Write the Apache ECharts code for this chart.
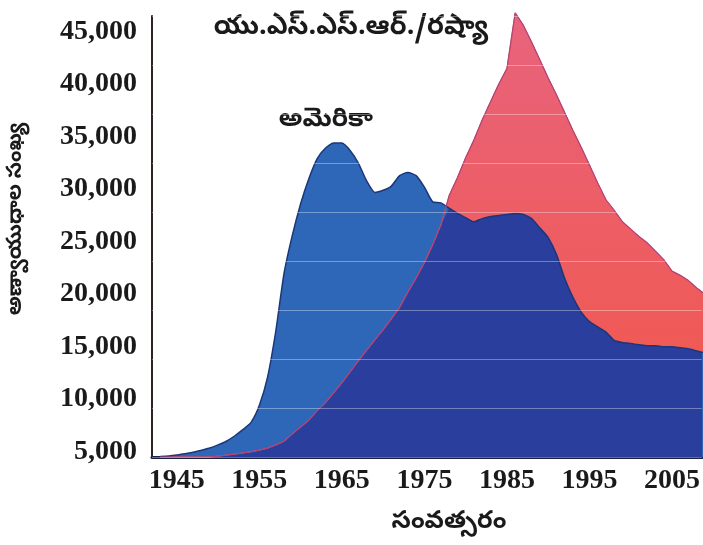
<!DOCTYPE html>
<html>
<head>
<meta charset="utf-8">
<script src="https://cdn.jsdelivr.net/npm/echarts@6/dist/echarts.min.js"></script>
<style>
  html, body { margin: 0; padding: 0; background: #fff; }
  #chart { width: 703px; height: 545px; }
</style>
</head>
<body>
<div id="chart"></div>
<script>
var years = [1943, 1944, 1945, 1946, 1947, 1948, 1949, 1950, 1951, 1952, 1953, 1954,
  1955, 1956, 1957, 1958, 1959, 1960, 1961, 1962, 1963, 1964, 1965, 1966, 1967, 1968,
  1969, 1970, 1971, 1972, 1973, 1974, 1975, 1976, 1977, 1978, 1979, 1980, 1981, 1982,
  1983, 1984, 1985, 1986, 1987, 1988, 1989, 1990, 1991, 1992, 1993, 1994, 1995, 1996,
  1997, 1998, 1999, 2000, 2001, 2002, 2003, 2004, 2005, 2006, 2007, 2008, 2009];

// అమెరికా
var usa = [4550, 4600, 4700, 4800, 4950, 5150, 5350, 5650, 6000, 6500, 7100, 7800,
  9400, 12100, 16500, 22000, 25600, 28600, 31000, 32900, 33900, 34400, 34400, 33700, 32500, 30800,
  29700, 29900, 30300, 31300, 31600, 31300, 30200, 28800, 28700, 28200, 27700, 27300, 26900, 27200,
  27400, 27500, 27600, 27700, 27600, 27200, 26300, 25400, 23800, 21500, 19700, 18300, 17400, 16900,
  16400, 15600, 15400, 15300, 15200, 15100, 15100, 15000, 15000, 14900, 14800, 14600, 14400];

// యు.ఎస్.ఎస్.ఆర్./రష్యా
var ussr = [4500, 4500, 4500, 4500, 4500, 4500, 4520, 4580, 4680, 4780, 4880, 5000,
  5150, 5350, 5650, 6000, 6700, 7350, 8000, 8900, 9650, 10600, 11550, 12600, 13650, 14650,
  15650, 16600, 17650, 18750, 20200, 21550, 23000, 24700, 26600, 29400, 31100, 33000, 34700, 36600,
  38300, 40000, 41500, 46800, 45600, 44000, 42300, 40600, 39000, 37300, 35600, 34000, 32300, 30600,
  29000, 28000, 26900, 26200, 25500, 24900, 24100, 23300, 22200, 21800, 21300, 20600, 20000];

var yearLabels = [1945, 1955, 1965, 1975, 1985, 1995, 2005];
var countLabels = [5000, 10000, 15000, 20000, 25000, 30000, 35000, 40000, 45000];

function pairs(vals) {
  return years.map(function (y, i) { return [y, vals[i]]; });
}
// the part where both stockpiles overlap is drawn dark navy
var overlap = usa.map(function (v, i) { return Math.min(v, ussr[i]); });

var teluguFont = '"Noto Sans Telugu", "Noto Sans", sans-serif';

var chart = echarts.init(document.getElementById('chart'));
var option = {
  animation: false,
  grid: { left: 152, right: 0, top: 16, bottom: 88 },
  xAxis: {
    type: 'value',
    min: 1942,
    max: 2008.6,
    splitLine: { show: false },
    axisTick: { show: false },
    axisLine: { lineStyle: { color: '#1b2142', width: 3 } },
    axisLabel: {
      customValues: yearLabels,
      margin: 10,
      color: '#1a1a1a',
      fontFamily: 'Liberation Serif',
      fontWeight: 'bold',
      fontSize: 28,
      formatter: function (v) { return String(v); }
    }
  },
  yAxis: [
    {
      type: 'value',
      min: 4500,
      max: 46500,
      splitLine: { show: false },
      axisTick: { show: false },
      axisLine: { show: true, lineStyle: { color: '#2b2420', width: 2 } },
      axisLabel: {
        customValues: countLabels,
        margin: 15,
        color: '#1a1a1a',
        fontFamily: 'Liberation Serif',
        fontWeight: 'bold',
        fontSize: 28,
        formatter: function (v) { return v.toLocaleString('en-US'); }
      }
    },
    {
      // faint white grid lines, only visible over the filled areas
      type: 'value',
      min: 0,
      max: 45000,
      interval: 5000,
      position: 'left',
      z: 5,
      axisLine: { show: false },
      axisTick: { show: false },
      axisLabel: { show: false },
      splitLine: { show: true, lineStyle: { color: 'rgba(255,255,255,0.35)', width: 1 } }
    }
  ],
  series: [
    {
      name: 'ussr',
      type: 'line',
      data: pairs(ussr),
      showSymbol: false,
      clip: false,
      lineStyle: { color: '#e8604f', width: 1 },
      areaStyle: {
        origin: 'start',
        opacity: 1,
        color: {
          type: 'linear', x: 0, y: 0, x2: 0, y2: 1,
          colorStops: [{ offset: 0, color: '#e8637c' }, { offset: 1, color: '#f2574a' }]
        }
      }
    },
    {
      name: 'usa',
      type: 'line',
      data: pairs(usa),
      showSymbol: false,
      smooth: 0.2,
      lineStyle: { color: '#1c3778', width: 1.5 },
      areaStyle: { origin: 'start', opacity: 1, color: '#2f67b8' }
    },
    {
      name: 'overlap',
      type: 'line',
      data: pairs(overlap),
      showSymbol: false,
      lineStyle: { width: 0 },
      areaStyle: { origin: 'start', opacity: 1, color: '#2a3e9d' }
    },
    {
      name: 'ussr-edge',
      type: 'line',
      data: pairs(ussr),
      showSymbol: false,
      clip: false,
      lineStyle: { color: '#b2427a', width: 1.2 }
    }
  ],
  graphic: [
    {
      type: 'text', x: 351, y: 30,
      style: { text: 'యు.ఎస్.ఎస్.ఆర్./రష్యా', font: 'bold 27px ' + teluguFont, fill: '#1a1a1a', align: 'center', verticalAlign: 'middle' }
    },
    {
      type: 'text', x: 326, y: 122,
      style: { text: 'అమెరికా', font: 'bold 26px ' + teluguFont, fill: '#1a1a1a', align: 'center', verticalAlign: 'middle' }
    },
    {
      type: 'text', x: 449, y: 524,
      style: { text: 'సంవత్సరం', font: 'bold 25px ' + teluguFont, fill: '#1a1a1a', align: 'center', verticalAlign: 'middle' }
    },
    {
      type: 'text', x: 18, y: 219, rotation: Math.PI / 2,
      style: { text: 'అణ్వాయుధాల సంఖ్య', font: 'bold 21px ' + teluguFont, fill: '#1a1a1a', align: 'center', verticalAlign: 'middle' }
    }
  ]
};
chart.setOption(option);
</script>
</body>
</html>
